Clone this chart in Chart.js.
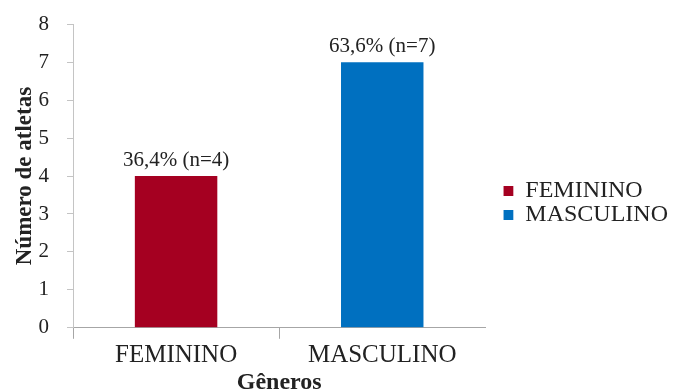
<!DOCTYPE html>
<html>
<head>
<meta charset="utf-8">
<script src="https://cdn.jsdelivr.net/npm/chart.js@4.4.1/dist/chart.umd.min.js"></script>
<style>
  html, body { margin: 0; padding: 0; background: #fff; }
  #wrap { width: 678px; height: 392px; }
</style>
</head>
<body>
<div id="wrap"><canvas id="c" width="678" height="392"></canvas></div>
<script>
// Athletes by gender
const categories = ['FEMININO', 'MASCULINO'];
const athletes = [4, 7];
const barColors = ['#A50021', '#0070C0'];
const yTicks = [0, 1, 2, 3, 4, 5, 6, 7, 8];

const total = athletes.reduce((a, b) => a + b, 0);
const valueLabels = athletes.map(n =>
  (n / total * 100).toFixed(1).replace('.', ',') + '% (n=' + n + ')');

const SERIF = '"Liberation Serif", "Times New Roman", Times, serif';
const TEXT = '#222222';
const AXIS_X = '#a6a6a6';
const AXIS_Y = '#c4c4c4';

// Writes the share and count above each bar
const valueLabelPlugin = {
  id: 'valueLabels',
  afterDatasetsDraw(chart) {
    const ctx = chart.ctx;
    const meta = chart.getDatasetMeta(0);
    ctx.save();
    ctx.font = '21px ' + SERIF;
    ctx.fillStyle = TEXT;
    ctx.textAlign = 'center';
    ctx.textBaseline = 'alphabetic';
    meta.data.forEach((bar, i) => {
      ctx.fillText(valueLabels[i], bar.x, bar.y - 10);
    });
    ctx.restore();
  }
};

new Chart(document.getElementById('c'), {
  type: 'bar',
  data: {
    labels: categories,
    datasets: [{
      data: athletes,
      backgroundColor: barColors,
      borderWidth: 0,
      barPercentage: 0.4,
      categoryPercentage: 1
    }]
  },
  options: {
    responsive: false,
    animation: false,
    devicePixelRatio: 1,
    layout: { padding: { left: 4, top: 14, right: 0, bottom: 0 } },
    plugins: {
      tooltip: { enabled: false },
      legend: {
        position: 'right',
        align: 'center',
        maxWidth: 240,
        labels: {
          font: { family: SERIF, size: 24 },
          color: TEXT,
          boxWidth: 10,
          boxHeight: 10,
          padding: 0,
          generateLabels: () => categories.map((c, i) => ({
            text: c,
            fillStyle: barColors[i],
            strokeStyle: barColors[i],
            lineWidth: 0,
            hidden: false,
            index: i,
            fontColor: TEXT
          }))
        }
      }
    },
    scales: {
      x: {
        ticks: { font: { family: SERIF, size: 25, lineHeight: 1.12 }, color: TEXT, padding: 3 },
        grid: {
          drawOnChartArea: false,
          drawTicks: true,
          tickLength: 11,
          offset: true,
          // no tick mark at the far right end of the axis
          color: c => (c.index === undefined ? 'rgba(0,0,0,0)' : AXIS_X)
        },
        border: { color: AXIS_X },
        title: {
          display: true,
          text: 'Gêneros',
          font: { family: SERIF, size: 24, weight: 'bold', lineHeight: 0.8 },
          color: TEXT,
          padding: { top: 0, bottom: 0 }
        }
      },
      y: {
        min: 0,
        max: 8,
        afterBuildTicks: s => { s.ticks = yTicks.map(v => ({ value: v })); },
        afterFit: s => { s.width = 69; },
        ticks: { font: { family: SERIF, size: 21, lineHeight: 0.6 }, color: TEXT, padding: 18 },
        grid: { drawOnChartArea: false, drawTicks: true, tickLength: 6, color: AXIS_Y },
        border: { color: AXIS_Y },
        title: {
          display: true,
          text: 'Número de atletas',
          font: { family: SERIF, size: 23, weight: 'bold', lineHeight: 1.1 },
          color: TEXT,
          padding: { top: 8, bottom: 0 }
        }
      },
      // empty spacer between the plot and the legend
      gap: {
        position: 'right',
        display: true,
        grid: { display: false },
        ticks: { display: false },
        border: { display: false },
        afterFit: s => { s.width = 18; }
      }
    }
  },
  plugins: [valueLabelPlugin]
});
</script>
</body>
</html>
